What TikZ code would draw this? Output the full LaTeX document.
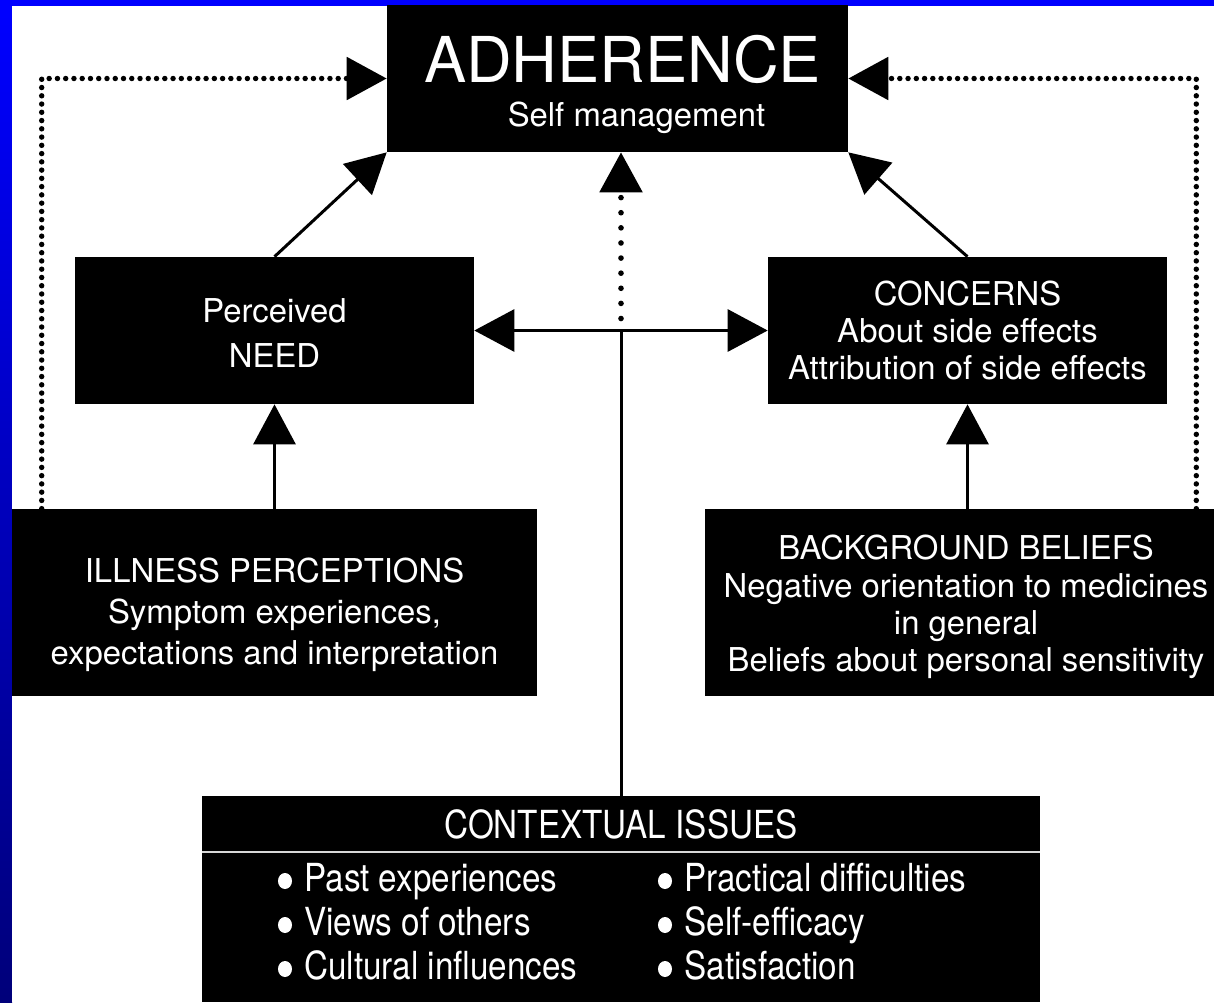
\documentclass[tikz,border=0pt]{standalone}
\usepackage{fontspec}
\setmainfont{TeX Gyre Heros}
\newfontfamily\narrowfont{TeX Gyre Heros}[FakeStretch=0.86]
\usepackage{tikz}
\usetikzlibrary{arrows.meta,calc,positioning}
\definecolor{navyblue}{RGB}{0,0,135}
\definecolor{splitgray}{RGB}{215,215,215}

\tikzset{
  blk/.style={fill=black,text=white,align=center,inner sep=0pt,font=\fontsize{18.7}{21.3}\selectfont},
  item/.style={text=white,inner sep=0pt,font=\narrowfont\fontsize{22}{24}\selectfont},
  ln/.style={line width=1.7pt},
  arr/.style={line width=1.7pt,-{Triangle[length=0.8cm,width=0.84cm]}},
  dotarr/.style={line width=3.1pt,line cap=round,dash pattern=on 0pt off 4.7pt,-{Triangle[length=0.8cm,width=0.84cm]}},
  sparsearr/.style={line width=3.2pt,line cap=round,dash pattern=on 0pt off 8.6pt,-{Triangle[length=0.8cm,width=0.84cm]}}
}

\begin{document}
\begin{tikzpicture}[x=0.02cm,y=-0.02cm]
        \useasboundingbox (0,0) rectangle (1214,1002);
        %Frame
        \fill[blue] (0,0) rectangle (1214,6);
        \shade[top color=blue,middle color=navyblue,bottom color=navyblue!90!black] (0,6) rectangle (12,1002);
        \fill[white] (12,6) rectangle (1214,1002);

        %Boxes
        \node[blk,minimum width=9.22cm,minimum height=2.94cm,text height=59pt] (adh) at (617.5,78.5)
          {{\fontsize{36}{40}\selectfont\hspace*{0.2cm}ADHERENCE}\\[4pt]\hspace*{0.76cm}Self management};
        \node[blk,minimum width=7.98cm,minimum height=2.94cm,text height=42.5pt,font=\fontsize{18.7}{26}\selectfont] (need) at (274.5,330.5)
          {Perceived\\NEED};
        \node[blk,minimum width=7.98cm,minimum height=2.94cm] (conc) at (967.5,330.5)
          {CONCERNS\\About side effects\\Attribution of side effects};
        \node[blk,minimum width=10.5cm,minimum height=3.74cm,text height=75pt,font=\fontsize{18.7}{23.5}\selectfont] (ill) at (274.5,602.5)
          {ILLNESS PERCEPTIONS\\Symptom experiences,\\expectations and interpretation};
        \node[blk,minimum width=10.44cm,minimum height=3.74cm,text height=83pt] (back) at (966,602.5)
          {BACKGROUND BELIEFS\\Negative orientation to medicines\\in general\\Beliefs about personal sensitivity};
        \node[blk,minimum width=16.76cm,minimum height=4.12cm] (ctx) at (621,899) {};

        %Contextual issues
        \node[item,anchor=base] (ctxhead) at (621,838) {CONTEXTUAL ISSUES};
        \draw[splitgray,line width=1pt] (ctx.west |- 0,852) -- (ctx.east |- 0,852);
        \foreach \txt [count=\i] in {Past experiences,Views of others,Cultural influences}{
          \fill[white] (285,837+44*\i) ellipse[x radius=0.14cm,y radius=0.16cm];
          \node[item,anchor=base west] (ctxl\i) at (304,847+44*\i) {\txt};
        }
        \foreach \txt [count=\i] in {Practical difficulties,Self-efficacy,Satisfaction}{
          \fill[white] (665,837+44*\i) ellipse[x radius=0.14cm,y radius=0.16cm];
          \node[item,anchor=base west] (ctxr\i) at (684,847+44*\i) {\txt};
        }

        %Draw edges
        \coordinate (hub) at (ctx.north |- need.east);
        \draw[ln] (ctx.north) -- (hub);
        \draw[arr] (hub) -- (need.east);
        \draw[arr] (hub) -- (conc.west);
        \draw[sparsearr] ($(hub)+(0,-12)$) -- (hub |- adh.south);
        \draw[arr] (ill.north) -- (need.south);
        \draw[arr] (conc.south |- back.north) -- (conc.south);
        \draw[arr] (need.north) -- (adh.south west);
        \draw[arr] (conc.north) -- (adh.south east);
        \draw[dotarr] ($(ill.north west)+(30,0)$) |- (adh.west);
        \draw[dotarr] ($(back.north east)+(-31,0)$) |- (adh.east);
\end{tikzpicture}
\end{document}
